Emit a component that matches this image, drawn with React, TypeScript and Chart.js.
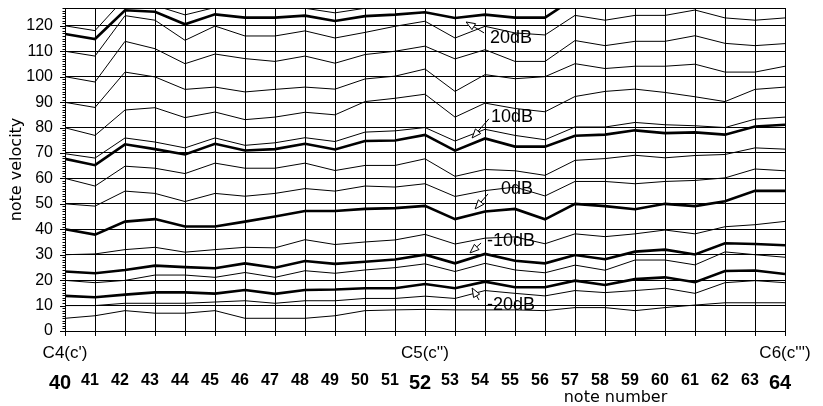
import React, { useEffect, useRef } from 'react';
import { Chart, registerables } from 'chart.js';

Chart.register(...registerables);

// MIDI note numbers (x)
const notes = [40, 41, 42, 43, 44, 45, 46, 47, 48, 49, 50, 51, 52, 53, 54, 55, 56, 57, 58, 59, 60, 61, 62, 63, 64];

// Octave labels on the x axis
const octaveLabels: Record<number, string> = { 40: "C4(c')", 52: "C5(c'')", 64: "C6(c''')" };

// Velocity axis tick values (127 is the top edge, unlabeled)
const velocityTicks = [0, 10, 20, 30, 40, 50, 60, 70, 80, 90, 100, 110, 120, 127];

// Equal-loudness contour lines (note velocity per note), bottom to top
const line1 = [5.0, 6.0, 8.0, 7.0, 7.0, 8.0, 5.0, 5.0, 5.0, 6.0, 8.0, 8.3, 8.5, 8.3, 8.3, 8.3, 8.0, 9.2, 9.2, 8.0, 9.2, 10.2, 11.1, 11.1, 11.1];
const line2 = [10.0, 10.0, 10.9, 10.9, 10.9, 11.4, 11.9, 10.9, 11.9, 11.9, 12.8, 12.8, 13.7, 12.8, 15.9, 14.8, 13.8, 15.9, 15.1, 15.9, 16.8, 14.8, 19.0, 19.8, 19.0];
const lineMinus20dB = [13.8, 13.3, 14.3, 15.2, 15.2, 14.7, 16.1, 14.6, 16.1, 16.3, 16.8, 16.8, 18.5, 16.8, 19.4, 17.2, 17.2, 19.8, 18.1, 20.4, 21.1, 19.2, 23.6, 23.8, 22.4];
const line4 = [19.9, 19.0, 19.9, 22.0, 22.0, 21.1, 23.0, 21.1, 23.7, 22.7, 24.0, 24.9, 26.4, 23.4, 26.6, 24.0, 22.9, 25.9, 23.9, 27.9, 27.9, 26.0, 31.1, 30.0, 29.0];
const lineMinus10dB = [23.4, 22.7, 24.0, 25.7, 25.1, 24.7, 26.6, 24.9, 27.5, 26.4, 27.2, 28.1, 30.0, 26.6, 30.3, 27.6, 26.6, 29.9, 28.2, 31.2, 32.0, 30.1, 34.5, 34.2, 33.7];
const line6 = [30.0, 30.3, 32.0, 32.9, 31.0, 32.0, 32.9, 32.7, 35.9, 34.0, 35.0, 35.8, 38.0, 34.2, 36.5, 37.0, 34.3, 38.2, 37.1, 38.2, 39.7, 38.2, 41.0, 41.8, 43.1];
const line0dB = [40.0, 37.9, 43.0, 44.0, 41.1, 41.1, 43.0, 45.0, 47.2, 47.2, 48.0, 48.3, 49.2, 44.0, 47.0, 48.0, 43.9, 50.0, 49.1, 47.9, 50.0, 49.1, 51.0, 55.1, 55.1];
const line8 = [50.0, 49.1, 55.0, 54.1, 50.9, 54.1, 53.0, 54.1, 56.0, 55.0, 57.0, 56.6, 57.9, 52.9, 55.2, 56.6, 53.1, 58.8, 58.8, 57.9, 58.8, 59.2, 60.2, 63.7, 63.0];
const line9 = [60.0, 57.0, 64.8, 64.0, 61.9, 66.0, 64.0, 64.0, 66.0, 63.1, 65.1, 65.1, 67.7, 60.8, 63.5, 63.0, 61.2, 67.1, 67.8, 69.1, 68.1, 69.0, 69.4, 72.0, 71.5];
const line10dB = [67.7, 65.2, 73.4, 71.5, 69.4, 73.6, 71.0, 71.5, 73.6, 71.4, 74.7, 74.9, 77.1, 70.9, 75.7, 72.5, 72.5, 76.8, 77.2, 78.9, 77.8, 78.1, 77.2, 80.4, 81.1];
const line11 = [69.7, 68.0, 75.9, 74.3, 72.0, 75.9, 73.0, 74.0, 76.0, 74.5, 78.2, 78.7, 80.0, 74.7, 79.3, 76.9, 75.2, 80.2, 80.2, 82.0, 81.1, 80.7, 80.0, 83.3, 84.1];
const line12 = [79.9, 76.9, 86.9, 87.8, 83.9, 86.1, 83.1, 84.1, 86.0, 85.0, 90.2, 91.5, 93.1, 84.1, 89.6, 87.5, 86.2, 92.2, 94.2, 95.1, 93.8, 92.1, 90.2, 95.0, 95.9];
const line13 = [89.9, 87.9, 101.8, 99.9, 95.0, 95.9, 94.0, 95.0, 95.9, 95.1, 99.1, 100.2, 103.0, 94.2, 100.8, 99.2, 100.0, 105.1, 103.2, 104.1, 104.1, 104.9, 101.8, 101.8, 104.1];
const line14 = [100.0, 97.9, 113.9, 111.0, 105.1, 108.9, 107.1, 106.0, 108.1, 105.3, 108.7, 110.0, 112.0, 107.0, 110.6, 106.0, 106.0, 114.2, 112.2, 113.9, 113.9, 116.1, 113.1, 112.2, 113.0];
const line15 = [110.0, 108.1, 124.0, 122.2, 114.3, 119.9, 116.0, 116.0, 118.0, 115.2, 117.4, 119.8, 121.8, 115.2, 119.8, 117.2, 116.4, 124.1, 122.2, 124.1, 124.1, 126.2, 123.1, 122.2, 123.1];
const line20dB = [116.8, 114.8, 126.1, 125.5, 120.6, 124.5, 123.2, 123.2, 124.0, 121.9, 123.8, 124.4, 125.3, 123.1, 124.4, 123.2, 123.2, 131.0, null, null, null, null, null, null, null];
const line17 = [120.0, 118.1, 131.0, 128.0, 124.3, 127.2, 128.0, 127.8, 126.9, 125.1, 126.9, 129.0, null, null, null, null, null, null, null, null, null, null, null, null, null];

const contourLines: { values: (number | null)[]; thick: boolean }[] = [
  { values: line1, thick: false },
  { values: line2, thick: false },
  { values: lineMinus20dB, thick: true },
  { values: line4, thick: false },
  { values: lineMinus10dB, thick: true },
  { values: line6, thick: false },
  { values: line0dB, thick: true },
  { values: line8, thick: false },
  { values: line9, thick: false },
  { values: line10dB, thick: true },
  { values: line11, thick: false },
  { values: line12, thick: false },
  { values: line13, thick: false },
  { values: line14, thick: false },
  { values: line15, thick: false },
  { values: line20dB, thick: true },
  { values: line17, thick: false },
];

// Level annotations: label, label position, arrow start and arrow tip (note, velocity)
const levelLabels = ['20dB', '10dB', '0dB', '-10dB', '-20dB'];
const labelNote = [54.87, 54.9, 55.07, 54.87, 54.87];
const labelVel = [115.2, 84.2, 55.8, 35.4, 10.2];
const arrowFromNote = [53.97, 54.13, 54.1, 53.87, 53.8];
const arrowFromVel = [117.2, 83.4, 53.9, 34.6, 12.2];
const arrowTipNote = [53.37, 53.57, 53.67, 53.5, 53.57];
const arrowTipVel = [121.5, 75.9, 48.0, 30.7, 16.9];

const SANS = '"Liberation Sans", Arial, Helvetica, sans-serif';
const NARROW = '"Liberation Sans Narrow", "Arial Narrow", "Liberation Sans", Arial, sans-serif';
const WIDE = '"DejaVu Sans", Verdana, sans-serif';

const overlayPlugin = {
  id: 'overlay',
  afterDraw(chart: any) {
    const { ctx, chartArea, scales } = chart;
    const xs = scales.x;
    const ys = scales.y;
    ctx.save();
    ctx.strokeStyle = '#000';
    ctx.lineWidth = 1;
    // minor / major ticks on the velocity axis
    for (let v = 0; v <= 127; v++) {
      const py = Math.round(ys.getPixelForValue(v)) + 0.5;
      const len = v % 10 === 0 ? 5 : 2.5;
      ctx.beginPath();
      ctx.moveTo(chartArea.left - len, py);
      ctx.lineTo(chartArea.left, py);
      ctx.stroke();
    }
    // level labels with arrows
    ctx.fillStyle = '#000';
    ctx.font = `18px ${SANS}`;
    ctx.textAlign = 'center';
    ctx.textBaseline = 'middle';
    for (let i = 0; i < levelLabels.length; i++) {
      ctx.fillText(levelLabels[i], xs.getPixelForValue(labelNote[i]), ys.getPixelForValue(labelVel[i]));
      const x0 = xs.getPixelForValue(arrowFromNote[i]);
      const y0 = ys.getPixelForValue(arrowFromVel[i]);
      const x1 = xs.getPixelForValue(arrowTipNote[i]);
      const y1 = ys.getPixelForValue(arrowTipVel[i]);
      const dx = x1 - x0;
      const dy = y1 - y0;
      const d = Math.hypot(dx, dy) || 1;
      const ux = dx / d;
      const uy = dy / d;
      const bx = x1 - ux * 9;
      const by = y1 - uy * 9;
      ctx.beginPath();
      ctx.moveTo(x0, y0);
      ctx.lineTo(bx, by);
      ctx.stroke();
      ctx.beginPath();
      ctx.moveTo(x1, y1);
      ctx.lineTo(bx - uy * 3.5, by + ux * 3.5);
      ctx.lineTo(bx + uy * 3.5, by - ux * 3.5);
      ctx.closePath();
      ctx.fillStyle = '#fff';
      ctx.fill();
      ctx.stroke();
      ctx.fillStyle = '#000';
    }
    // x-axis title
    ctx.font = `16px ${WIDE}`;
    ctx.fillText('note number', xs.getPixelForValue(58.35), 398);
    ctx.restore();
  },
};

export default function App() {
  const ref = useRef<HTMLCanvasElement>(null);
  useEffect(() => {
    const canvas = ref.current;
    if (!canvas) return;
    const chart = new Chart(canvas, {
      type: 'line',
      data: {
        datasets: contourLines.map((l) => ({
          data: notes.map((n, i) => ({ x: n, y: l.values[i] })),
          borderColor: '#000',
          borderWidth: l.thick ? 2.6 : 1,
          pointRadius: 0,
          tension: 0,
          fill: false,
          clip: 0,
          spanGaps: false,
        })),
      } as any,
      options: {
        responsive: false,
        animation: false,
        devicePixelRatio: 1,
        layout: { padding: { left: 0, right: 38, top: 8, bottom: 0 } },
        plugins: { legend: { display: false }, tooltip: { enabled: false } },
        scales: {
          x: {
            type: 'linear',
            position: 'bottom',
            min: 40,
            max: 64,
            weight: 0,
            ticks: {
              stepSize: 1,
              autoSkip: false,
              maxRotation: 0,
              minRotation: 0,
              padding: 7,
              color: '#000',
              font: { family: SANS, size: 17 },
              callback: (v: any) => octaveLabels[Number(v)] ?? '',
            },
            grid: { color: '#000', lineWidth: 1, tickLength: 5, tickColor: '#000', drawTicks: true },
            border: { color: '#000', width: 1 },
            afterFit: (s: any) => {
              s.height = 36;
              s.paddingLeft = 0;
              s.paddingRight = 0;
            },
          },
          x2: {
            type: 'linear',
            position: 'bottom',
            min: 40,
            max: 64,
            weight: 1,
            ticks: {
              stepSize: 1,
              autoSkip: false,
              maxRotation: 0,
              minRotation: 0,
              padding: 4,
              labelOffset: -5,
              color: '#000',
              font: (ctx: any) => {
                const v = ctx.tick ? ctx.tick.value : 0;
                const big = v === 40 || v === 52 || v === 64;
                return { family: NARROW, size: big ? 20 : 16, weight: 'bold' };
              },
              callback: (v: any) => String(v),
            },
            grid: { display: false, drawTicks: false },
            border: { display: false },
            afterFit: (s: any) => {
              s.height = 39;
              s.paddingLeft = 0;
              s.paddingRight = 0;
            },
          },
          y: {
            type: 'linear',
            min: 0,
            max: 127,
            afterBuildTicks: (s: any) => {
              s.ticks = velocityTicks.map((v) => ({ value: v }));
            },
            ticks: {
              autoSkip: false,
              padding: 12,
              color: '#000',
              font: { family: SANS, size: 16 },
              callback: (v: any) => (Number(v) % 10 === 0 ? String(v) : ''),
            },
            grid: { color: '#000', lineWidth: 1, drawTicks: false },
            border: { color: '#000', width: 1 },
            title: {
              display: true,
              text: 'note velocity',
              color: '#000',
              font: { family: WIDE, size: 16 },
              padding: { top: 7, bottom: 0 },
            },
            afterFit: (s: any) => {
              s.width = 65;
              s.paddingTop = 0;
              s.paddingBottom = 0;
            },
          },
        },
      } as any,
      plugins: [overlayPlugin],
    });
    return () => chart.destroy();
  }, []);
  return (
    <div style={{ position: 'absolute', left: 0, top: 0, width: 823, height: 406, background: '#fff' }}>
      <canvas ref={ref} width={823} height={406} style={{ display: 'block', width: 823, height: 406 }} />
    </div>
  );
}
